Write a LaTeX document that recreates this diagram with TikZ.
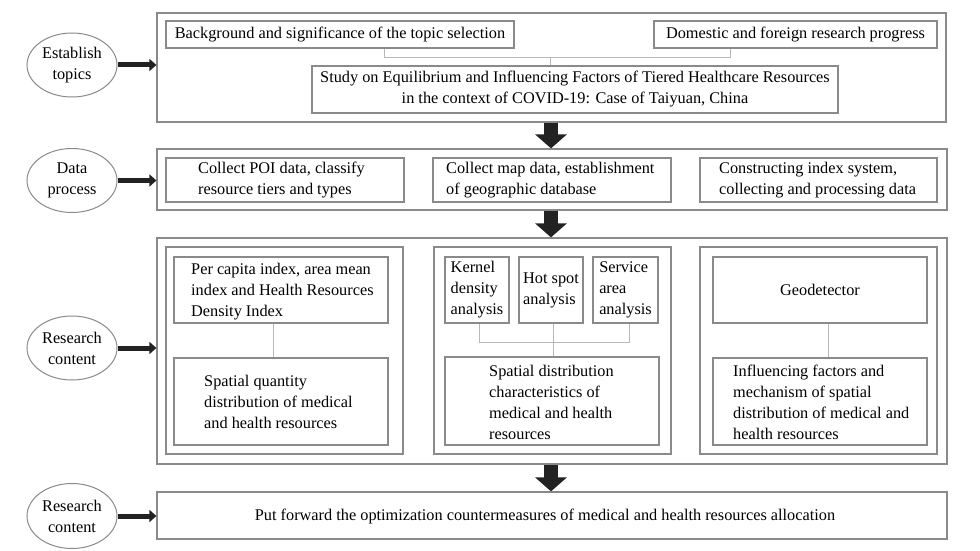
\documentclass[tikz,border=0pt]{standalone}
\usepackage{fontspec}
\setmainfont{Liberation Serif}
\usetikzlibrary{arrows.meta,shapes.geometric,calc}
\definecolor{bordergray}{HTML}{8A8A8A}
\definecolor{linkgray}{HTML}{B8B8B8}
\definecolor{arrowdark}{HTML}{222222}
\newcommand{\dfont}{\fontsize{16.3}{21}\selectfont}
\begin{document}
\begin{tikzpicture}[x=1pt,y=-1pt,
  bx/.style={draw=bordergray, line width=1.2pt, inner sep=0pt, rectangle},
  cbx/.style={bx, align=center, font=\dfont},
  lbx/.style={bx, align=left, font=\dfont},
  txt/.style={font=\dfont, align=left, inner sep=0pt, anchor=west},
  ctxt/.style={font=\dfont, align=center, inner sep=0pt},
  oval/.style={ellipse, draw=bordergray, line width=1pt, minimum width=90pt, minimum height=64pt, inner sep=0pt, align=center, font=\dfont},
  link/.style={draw=linkgray, line width=1pt},
  sidearrow/.style={draw=arrowdark, line width=5pt, -{Triangle[width=12pt,length=7pt]}},
  bigarrow/.style={draw=arrowdark, line width=14pt, -{Triangle[width=31pt,length=14pt]}}]
\useasboundingbox (0,0) rectangle (980,551);

% ---------- row 1
\node[bx, minimum width=789pt, minimum height=109pt] (top) at (551.5,67.5) {};
\node[cbx, minimum width=348pt, minimum height=27pt] (bg) at (340,34.5) {Background and significance of the topic selection};
\node[cbx, minimum width=283pt, minimum height=27pt] (dom) at (795.5,34.5) {Domestic and foreign research progress};
\node[cbx, minimum width=526pt, minimum height=47pt] (study) at (575,89.5) {Study on Equilibrium and Influencing Factors of Tiered Healthcare Resources\\in the context of COVID-19: Case of Taiyuan, China};
\coordinate (bgc) at (384,58);
\coordinate (domc) at (730,58);
\coordinate (stc) at (550,58);
\draw[link] (bg.south -| bgc) -- (bgc) -- (domc) -- (dom.south -| domc);
\draw[link] (stc) -- (study.north -| stc);

% ---------- row 2
\node[bx, minimum width=790pt, minimum height=61pt] (box2) at (552,179.5) {};
\node[bx, minimum width=238pt, minimum height=44pt] (poi) at (285,180) {};
\node[txt] (poit) at (198,180) {Collect POI data, classify\\resource tiers and types};
\node[bx, minimum width=238pt, minimum height=44pt] (map) at (552,180) {};
\node[txt] (mapt) at (446,180) {Collect map data, establishment\\of geographic database};
\node[bx, minimum width=237pt, minimum height=44pt] (idx) at (818.5,180) {};
\node[txt] (idxt) at (719,180) {Constructing index system,\\collecting and processing data};

% ---------- row 3
\node[bx, minimum width=790pt, minimum height=226pt] (box3) at (552,351) {};
\node[bx, minimum width=237pt, minimum height=207pt] (inA) at (284.5,350.5) {};
\node[bx, minimum width=237pt, minimum height=207pt] (inB) at (552.5,350.5) {};
\node[bx, minimum width=237pt, minimum height=207pt] (inC) at (818.5,350.5) {};

\node[bx, minimum width=214pt, minimum height=66pt] (percap) at (281,290) {};
\node[txt] (percapt) at (191,292) {Per capita index, area mean\\index and Health Resources\\Density Index};
\node[bx, minimum width=214pt, minimum height=87pt] (spq) at (281,401.5) {};
\node[txt] (spqt) at (204,401.5) {Spatial quantity\\distribution of medical\\and health resources};
\coordinate (pcj) at (273,340);
\draw[link] (percap.south -| pcj) -- (spq.north -| pcj);

\node[lbx, minimum width=64pt, minimum height=66pt] (kern) at (477,290) {Kernel\\density\\analysis};
\node[lbx, minimum width=64pt, minimum height=66pt] (hot) at (551,290) {Hot spot\\analysis};
\node[lbx, minimum width=65pt, minimum height=66pt] (serv) at (625.5,290) {Service\\area\\analysis};
\node[bx, minimum width=214pt, minimum height=88pt] (spd) at (552,401) {};
\node[txt] (spdt) at (489,402) {Spatial distribution\\characteristics of\\medical and health\\resources};
\coordinate (kj) at (479,342);
\coordinate (sj) at (629,342);
\coordinate (hj) at (553,342);
\draw[link] (kern.south -| kj) -- (kj) -- (sj) -- (serv.south -| sj);
\draw[link] (hot.south -| hj) -- (spd.north -| hj);

\node[cbx, minimum width=214pt, minimum height=66pt] (geo) at (820,290) {Geodetector};
\node[bx, minimum width=214pt, minimum height=87pt] (infl) at (820,401.5) {};
\node[txt] (inflt) at (733,402) {Influencing factors and\\mechanism of spatial\\distribution of medical and\\health resources};
\coordinate (gj) at (828,340);
\draw[link] (geo.south -| gj) -- (infl.north -| gj);

% ---------- row 4
\node[bx, minimum width=790pt, minimum height=47pt] (box4) at (552,515.5) {};
\node[ctxt] (box4t) at (545,516) {Put forward the optimization countermeasures of medical and health resources allocation};

% ---------- big arrows
\coordinate (ax) at (551,0);
\draw[bigarrow] (top.south -| ax) -- (box2.north -| ax);
\draw[bigarrow] (box2.south -| ax) -- (box3.north -| ax);
\draw[bigarrow] (box3.south -| ax) -- (box4.north -| ax);

% ---------- ellipses
\node[oval] (e1) at (72,65) {Establish\\topics};
\node[oval] (e2) at (72,180.5) {Data\\process};
\node[oval] (e3) at (72,348) {Research\\content};
\node[oval, minimum height=65pt] (e4) at (72,516) {Research\\content};
\draw[sidearrow] (e1.east) -- (top.west |- e1.east);
\draw[sidearrow] (e2.east) -- (box2.west |- e2.east);
\draw[sidearrow] (e3.east) -- (box3.west |- e3.east);
\draw[sidearrow] (e4.east) -- (box4.west |- e4.east);
\end{tikzpicture}
\end{document}
